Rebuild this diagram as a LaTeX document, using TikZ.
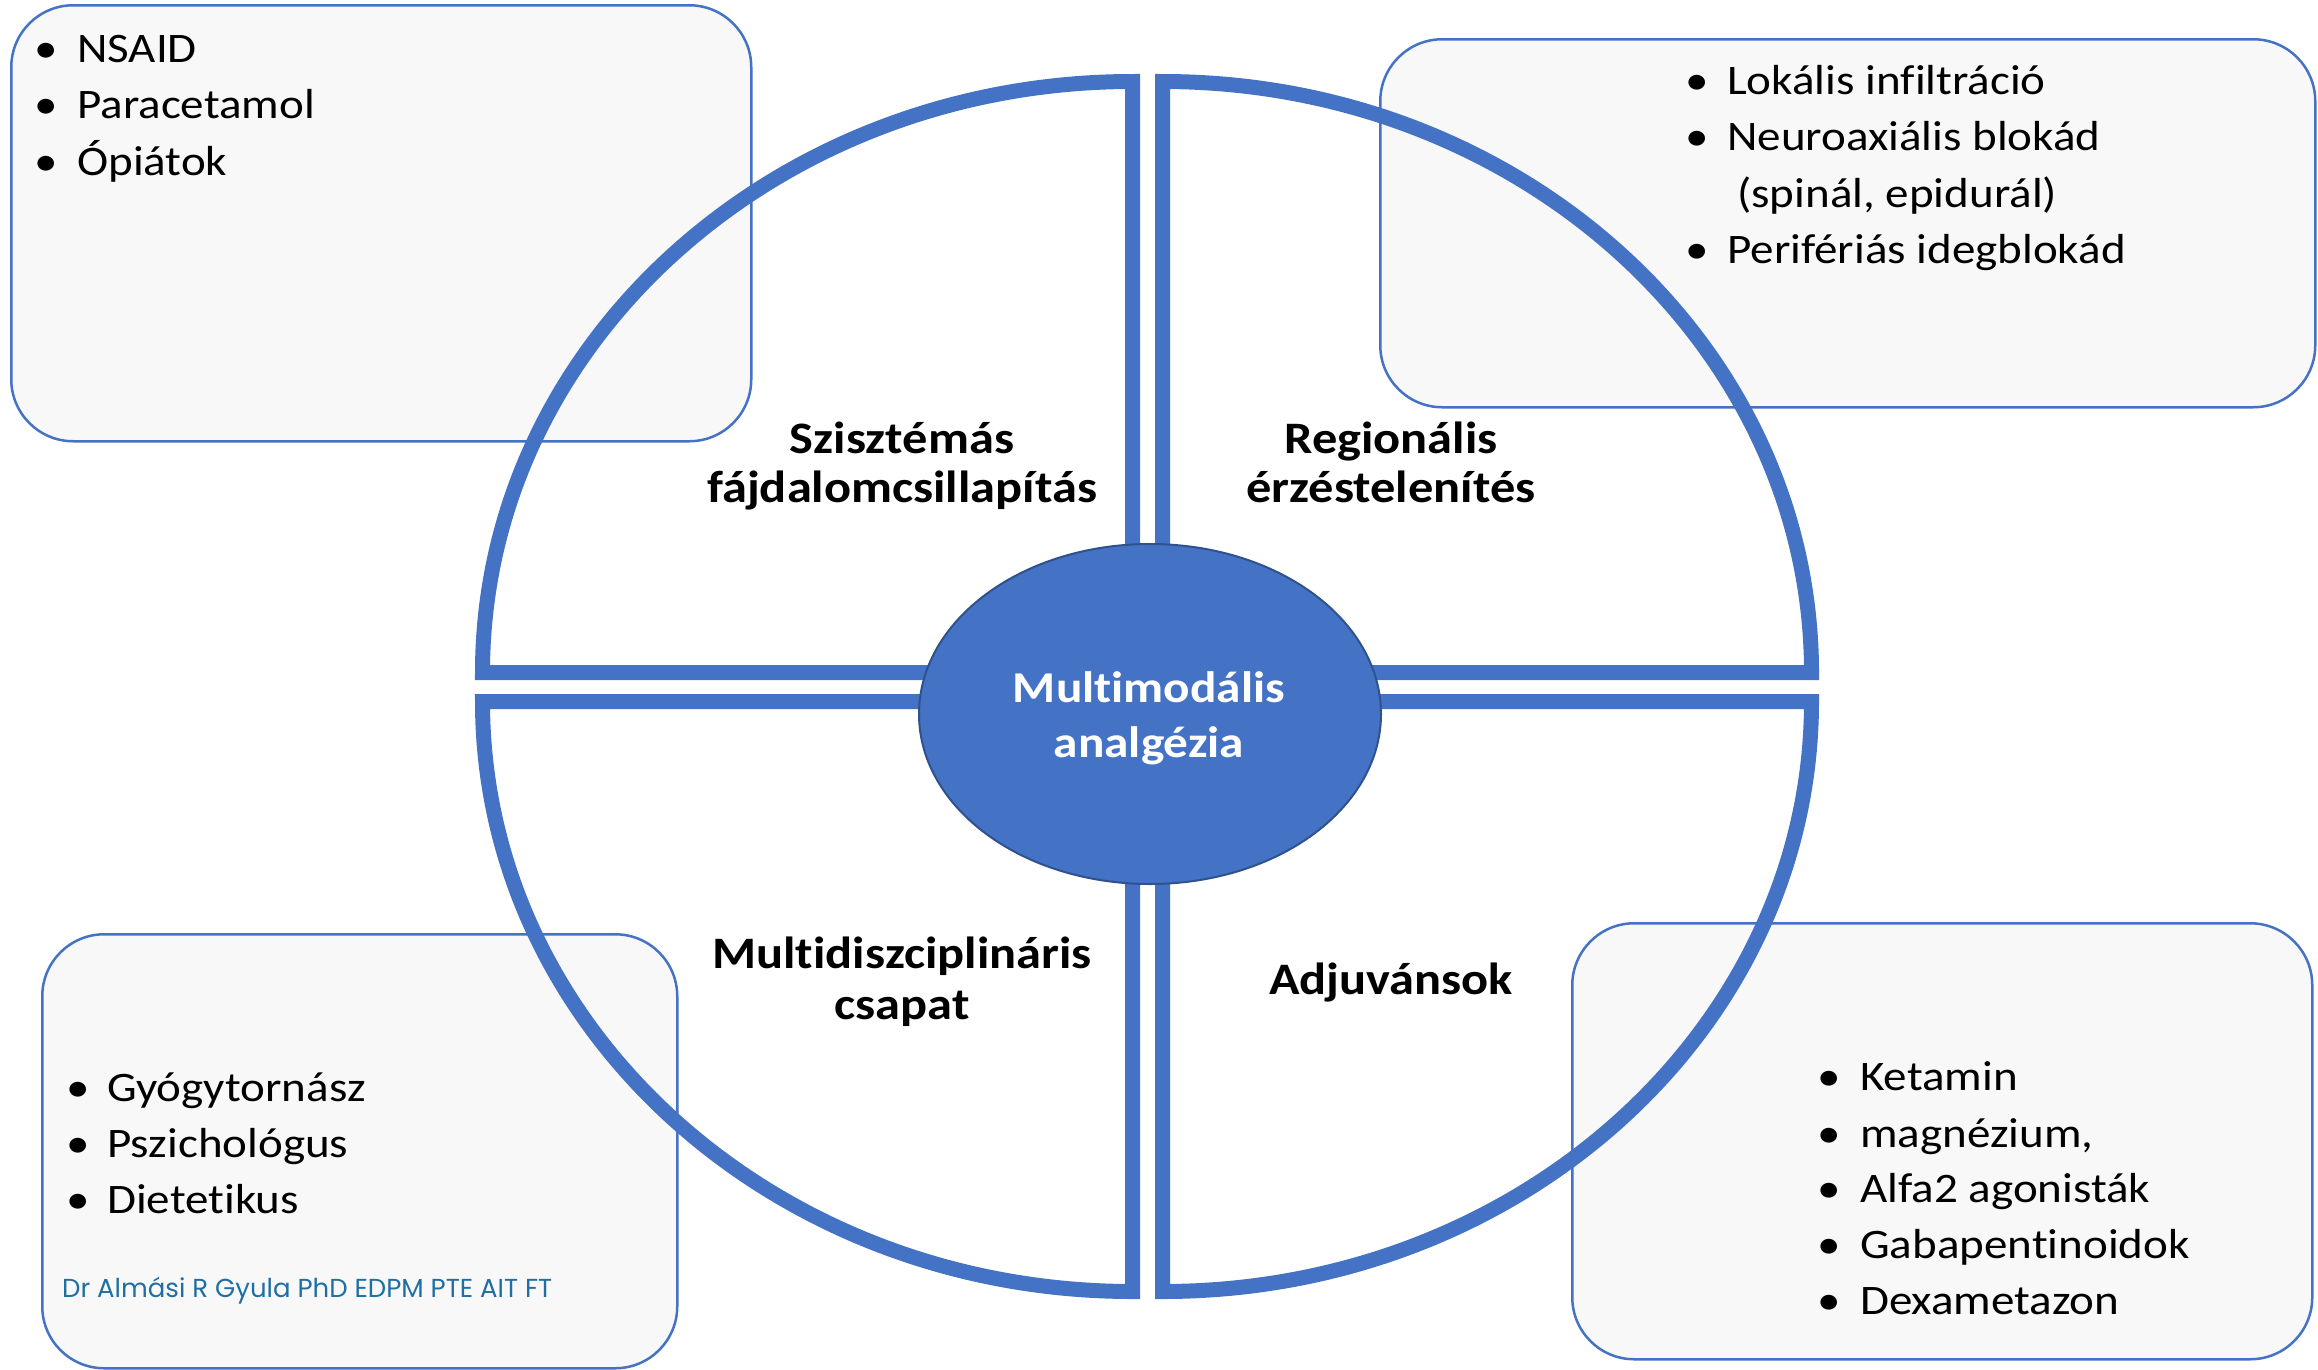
\documentclass[tikz,border=0pt]{standalone}
\usepackage{fontspec}
\setmainfont{Carlito}[FakeStretch=1.12, Ligatures=NoCommon]
\newfontfamily\creditfamily{Poppins}
\usetikzlibrary{shapes.geometric}

\definecolor{pieblue}{HTML}{4472C4}
\definecolor{hubedge}{HTML}{2F528F}
\definecolor{panelfill}{HTML}{F8F8F8}
\definecolor{credittext}{HTML}{1F6FA3}

\newcommand\bodyfnt{\fontsize{42pt}{50pt}\selectfont}
\newcommand\labelfnt{\fontsize{45pt}{50pt}\selectfont\bfseries}
\newcommand\hubfnt{\fontsize{44pt}{55pt}\selectfont\bfseries}
\newcommand\creditfnt{\creditfamily\fontsize{26pt}{30pt}\selectfont}

\tikzset{
  panel/.style={draw=pieblue, line width=2.5pt, fill=panelfill,
    rounded corners=62pt, anchor=north west, inner sep=0pt},
  quarter/.style={draw=pieblue, line width=15pt, line join=miter},
  item/.style={anchor=base west, inner sep=0pt, font=\bodyfnt},
  dot/.style={anchor=base, inner sep=0pt, font=\bodyfnt},
  caption/.style={anchor=base, inner sep=0pt, font=\labelfnt},
  hubtext/.style={anchor=base, inner sep=0pt, font=\hubfnt, text=white},
}

\begin{document}
\begin{tikzpicture}[x=1pt, y=1pt, yscale=-1]
\path[use as bounding box] (0,0) rectangle (2318,1369);

% side panels
\node[panel, minimum width=740pt, minimum height=436pt] (pTL) at (10,4) {};
\node[panel, minimum width=935pt, minimum height=368pt] (pTR) at (1379,38) {};
\node[panel, minimum width=635pt, minimum height=434pt] (pBL) at (41,933) {};
\node[panel, minimum width=740pt, minimum height=436pt] (pBR) at (1571,922) {};

% top-left list
\node[dot]  (dTL1) at (46,62)  {•};
\node[item] (tTL1) at (77,62)  {NSAID};
\node[dot]  (dTL2) at (46,118) {•};
\node[item] (tTL2) at (77,118) {Paracetamol};
\node[dot]  (dTL3) at (46,175) {•};
\node[item] (tTL3) at (77,175) {Ópiátok};

% top-right list
\node[dot]  (dTR1) at (1697,94)  {•};
\node[item] (tTR1) at (1727,94)  {Lokális infiltráció};
\node[dot]  (dTR2) at (1697,150) {•};
\node[item] (tTR2) at (1727,150) {Neuroaxiális blokád};
\node[item] (tTR3) at (1737,207) {(spinál, epidurál)};
\node[dot]  (dTR4) at (1697,263) {•};
\node[item] (tTR4) at (1727,263) {Perifériás idegblokád};

% bottom-left list
\node[dot]  (dBL1) at (78,1101)  {•};
\node[item] (tBL1) at (107,1101) {Gyógytornász};
\node[dot]  (dBL2) at (78,1157)  {•};
\node[item] (tBL2) at (107,1157) {Pszichológus};
\node[dot]  (dBL3) at (78,1213)  {•};
\node[item] (tBL3) at (107,1213) {Dietetikus};
\node[anchor=base west, inner sep=0pt, font=\creditfnt, text=credittext]
  (credit) at (62,1297) {Dr Almási R Gyula PhD EDPM PTE AIT FT};

% bottom-right list
\node[dot]  (dBR1) at (1829,1090) {•};
\node[item] (tBR1) at (1860,1090) {Ketamin};
\node[dot]  (dBR2) at (1829,1147) {•};
\node[item] (tBR2) at (1860,1147) {magnézium,};
\node[dot]  (dBR3) at (1829,1202) {•};
\node[item] (tBR3) at (1860,1202) {Alfa2 agonisták};
\node[dot]  (dBR4) at (1829,1258) {•};
\node[item] (tBR4) at (1860,1258) {Gabapentinoidok};
\node[dot]  (dBR5) at (1829,1314) {•};
\node[item] (tBR5) at (1860,1314) {Dexametazon};

% four quarter-ellipse segments
\draw[quarter] (1132.5,672.5) -- (482.5,672.5)
  arc[start angle=180, end angle=270, x radius=650pt, y radius=591pt] -- cycle;
\draw[quarter] (1162.5,672.5) -- (1162.5,81.5)
  arc[start angle=270, end angle=360, x radius=649pt, y radius=591pt] -- cycle;
\draw[quarter] (1132.5,701.5) -- (482.5,701.5)
  arc[start angle=180, end angle=90, x radius=650pt, y radius=590pt] -- cycle;
\draw[quarter] (1162.5,701.5) -- (1811.5,701.5)
  arc[start angle=0, end angle=90, x radius=649pt, y radius=590pt] -- cycle;

% central hub
\node[ellipse, draw=hubedge, line width=2pt, fill=pieblue, inner sep=0pt,
  minimum width=462pt, minimum height=340pt] (hub) at (1150,714) {};
\node[hubtext] (hub1) at (1149,702) {Multimodális};
\node[hubtext] (hub2) at (1149,757) {analgézia};

% segment captions
\node[caption] (cTL1) at (902,453)  {Szisztémás};
\node[caption] (cTL2) at (902,502)  {fájdalomcsillapítás};
\node[caption] (cTR1) at (1391,453) {Regionális};
\node[caption] (cTR2) at (1391,502) {érzéstelenítés};
\node[caption] (cBL1) at (902,968)  {Multidiszciplináris};
\node[caption] (cBL2) at (902,1019) {csapat};
\node[caption] (cBR1) at (1391,994) {Adjuvánsok};
\end{tikzpicture}
\end{document}
